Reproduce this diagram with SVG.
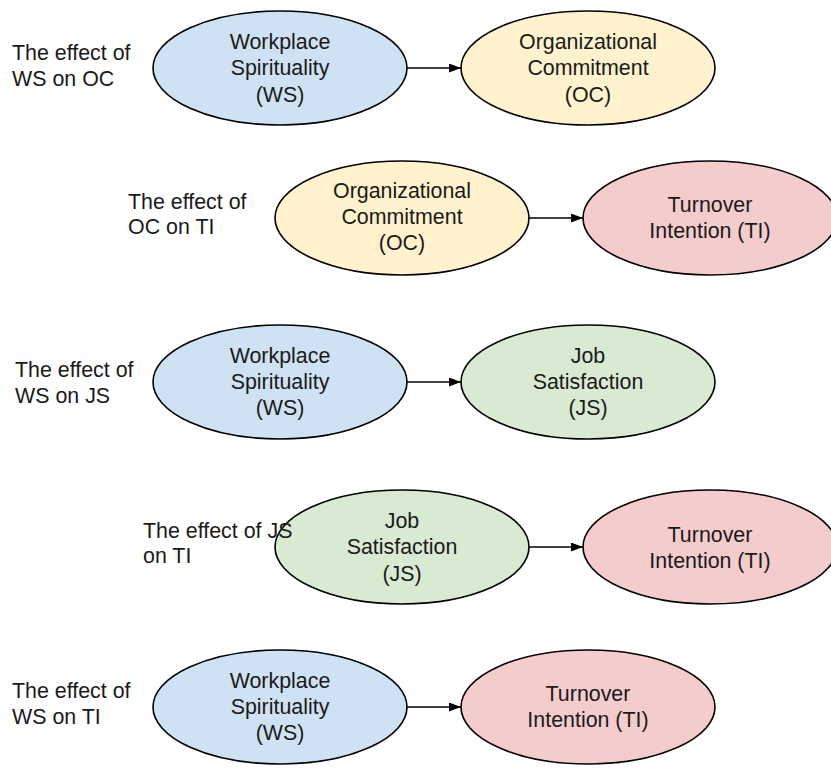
<svg xmlns="http://www.w3.org/2000/svg" width="831" height="768" viewBox="0 0 831 768">
  <defs>
    <marker id="arrow" viewBox="0 0 12 9" refX="12" refY="4.5" markerWidth="12" markerHeight="9" markerUnits="userSpaceOnUse" orient="auto">
      <path d="M0,0 L12,4.5 L0,9 Z" fill="#000"/>
    </marker>
    <style>
      text { font-family: "Liberation Sans", Arial, sans-serif; font-size: 21.4px; fill: #1a1a1a; }
      .c { text-anchor: middle; dominant-baseline: central; }
      .l { dominant-baseline: central; }
      ellipse { stroke: #000; stroke-width: 1.6; }
      .ws { fill: #cfe2f3; }
      .oc { fill: #fff2cc; }
      .ti { fill: #f4cccc; }
      .js { fill: #d9ead3; }
      .edge { stroke: #000; stroke-width: 1.6; fill: none; marker-end: url(#arrow); }
    </style>
  </defs>
  <rect width="831" height="768" fill="#fff"/>

  <!-- row labels -->
  <g id="label-ws-oc">
    <text class="l" x="12" y="53">The effect of</text>
    <text class="l" x="12" y="79">WS on OC</text>
  </g>
  <g id="label-oc-ti">
    <text class="l" x="128" y="202">The effect of</text>
    <text class="l" x="128" y="227">OC on TI</text>
  </g>
  <g id="label-ws-js">
    <text class="l" x="15" y="370">The effect of</text>
    <text class="l" x="15" y="396">WS on JS</text>
  </g>

  <!-- row 1 -->
  <g id="ws1">
    <ellipse class="ws" cx="280" cy="68" rx="127" ry="57"/>
    <text class="c" x="280" y="42">Workplace</text>
    <text class="c" x="280" y="68">Spirituality</text>
    <text class="c" x="280" y="95">(WS)</text>
  </g>
  <g id="oc1">
    <ellipse class="oc" cx="588" cy="68" rx="127" ry="57"/>
    <text class="c" x="588" y="42">Organizational</text>
    <text class="c" x="588" y="68">Commitment</text>
    <text class="c" x="588" y="95">(OC)</text>
  </g>

  <!-- row 2 -->
  <g id="oc2">
    <ellipse class="oc" cx="402" cy="218" rx="127" ry="57"/>
    <text class="c" x="402" y="191">Organizational</text>
    <text class="c" x="402" y="217">Commitment</text>
    <text class="c" x="402" y="243">(OC)</text>
  </g>
  <g id="ti2">
    <ellipse class="ti" cx="710" cy="218" rx="127" ry="57"/>
    <text class="c" x="710" y="205">Turnover</text>
    <text class="c" x="710" y="231">Intention (TI)</text>
  </g>

  <!-- row 3 -->
  <g id="ws3">
    <ellipse class="ws" cx="280" cy="382" rx="127" ry="57"/>
    <text class="c" x="280" y="356">Workplace</text>
    <text class="c" x="280" y="382">Spirituality</text>
    <text class="c" x="280" y="408">(WS)</text>
  </g>
  <g id="js3">
    <ellipse class="js" cx="588" cy="382" rx="127" ry="57"/>
    <text class="c" x="588" y="356">Job</text>
    <text class="c" x="588" y="382">Satisfaction</text>
    <text class="c" x="588" y="408">(JS)</text>
  </g>

  <!-- row 4 -->
  <g id="js4">
    <ellipse class="js" cx="402" cy="547" rx="127" ry="57"/>
    <text class="c" x="402" y="521">Job</text>
    <text class="c" x="402" y="547">Satisfaction</text>
    <text class="c" x="402" y="574">(JS)</text>
  </g>
  <g id="ti4">
    <ellipse class="ti" cx="710" cy="547" rx="127" ry="57"/>
    <text class="c" x="710" y="535">Turnover</text>
    <text class="c" x="710" y="561">Intention (TI)</text>
  </g>
  <g id="label-js-ti">
    <text class="l" x="143" y="531">The effect of JS</text>
    <text class="l" x="143" y="556">on TI</text>
  </g>

  <!-- row 5 -->
  <g id="label-ws-ti">
    <text class="l" x="12" y="691">The effect of</text>
    <text class="l" x="12" y="717">WS on TI</text>
  </g>
  <g id="ws5">
    <ellipse class="ws" cx="280" cy="707" rx="127" ry="57"/>
    <text class="c" x="280" y="681">Workplace</text>
    <text class="c" x="280" y="707">Spirituality</text>
    <text class="c" x="280" y="733">(WS)</text>
  </g>
  <g id="ti5">
    <ellipse class="ti" cx="588" cy="707" rx="127" ry="57"/>
    <text class="c" x="588" y="694">Turnover</text>
    <text class="c" x="588" y="720">Intention (TI)</text>
  </g>

  <!-- connectors -->
  <g id="connectors">
    <line class="edge" x1="407" y1="68" x2="461" y2="68"/>
    <line class="edge" x1="529" y1="218" x2="583" y2="218"/>
    <line class="edge" x1="407" y1="382" x2="461" y2="382"/>
    <line class="edge" x1="529" y1="547" x2="583" y2="547"/>
    <line class="edge" x1="407" y1="707" x2="461" y2="707"/>
  </g>
</svg>
